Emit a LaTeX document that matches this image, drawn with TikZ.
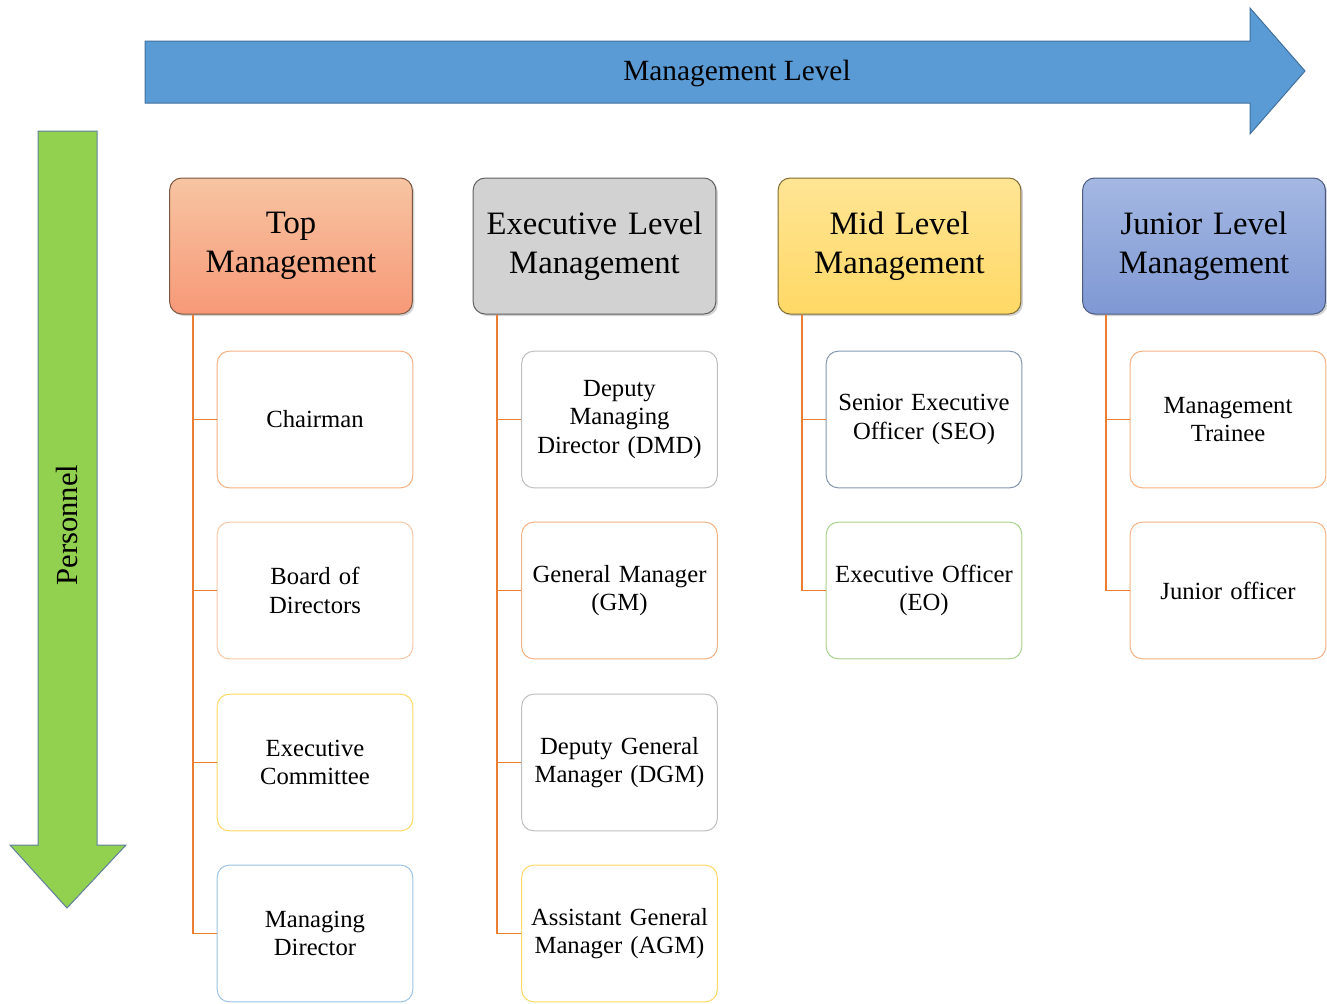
\documentclass[tikz,border=0pt]{standalone}
\usepackage{fontspec}
\setmainfont{Liberation Serif}
\usetikzlibrary{shadows}

\definecolor{lvlblue}{HTML}{5B9BD5}
\definecolor{lvlblueedge}{HTML}{41719C}
\definecolor{persgreen}{HTML}{92D050}
\definecolor{persedge}{HTML}{5F7F9F}
\definecolor{branchorange}{HTML}{ED7D31}
\definecolor{edgeorange}{HTML}{F4B183}
\definecolor{edgeyellow}{HTML}{FFD966}
\definecolor{edgeblue}{HTML}{9DC3E6}
\definecolor{edgegrey}{HTML}{BFBFBF}
\definecolor{edgeslate}{HTML}{8497B0}
\definecolor{edgegreen}{HTML}{A9D18E}
\definecolor{juniortop}{HTML}{A4B8E2}
\definecolor{juniorbottom}{HTML}{7F98D4}

\tikzset{every picture/.style={line width=0.75pt}}
\tikzset{
  header/.style={rounded corners=9pt, minimum width=182pt, minimum height=102pt,
    align=center, text width=175pt, font=\fontsize{24.5}{29}\selectfont,
    drop shadow={shadow xshift=1.5pt, shadow yshift=-1.5pt, opacity=0.35}},
  member/.style={rounded corners=9pt, fill=white, minimum width=145.5pt, minimum height=102.5pt,
    align=center, text width=140pt, font=\fontsize{18.5}{21.5}\selectfont},
  branch/.style={draw=branchorange, line width=1.4pt},
}

\begin{document}
\begin{tikzpicture}[x=0.75pt,y=0.75pt,yscale=-1,xscale=1]
\path[use as bounding box] (0,0) rectangle (1327,1003);

%Shape: Right Arrow [id:management]
\draw[draw=lvlblueedge, fill=lvlblue] (145,41) -- (1250,41) -- (1250,8) -- (1305,71) -- (1250,134) -- (1250,103) -- (145,103) -- cycle;
% Text Node
\node (levelname) at (737,73) [inner sep=0.75pt, font=\fontsize{22}{26}\selectfont] {Management Level};

%Shape: Down Arrow [id:personnel]
\draw[draw=persedge, fill=persgreen] (38,131) -- (97,131) -- (97,845) -- (126,845) -- (67,908) -- (10,845) -- (38,845) -- cycle;
% Text Node
\node (persname) at (67,525) [inner sep=0.75pt, rotate=90, font=\fontsize{23}{27}\selectfont] {Personnel};

%Header boxes
\node[header, draw=edgeorange!50!black, top color=edgeorange!75, bottom color=edgeorange!80!red!90] (top) at (291,246) {Top\\Management};
\node[header, draw=edgegrey!50!black, top color=edgegrey!70, bottom color=edgegrey!110!black] (exec) at (594.5,246) {Executive Level\\Management};
\node[header, draw=edgeyellow!50!black, top color=edgeyellow!70, bottom color=edgeyellow] (mid) at (899.5,246) {Mid Level\\Management};
\node[header, draw=juniorbottom!60!black, top color=juniortop, bottom color=juniorbottom] (junior) at (1204,246) {Junior Level\\Management};

%Top management members
\node[member, draw=edgeorange] (chair) at (315,419.5) {Chairman};
\node[member, draw=edgeorange!70] (board) at (315,590.5) {Board of\\Directors};
\node[member, draw=edgeyellow] (excom) at (315,762.5) {Executive\\Committee};
\node[member, draw=edgeblue] (md) at (315,933.5) {Managing\\Director};

%Executive level members
\node[member, draw=edgegrey] (dmd) at (619.5,419.5) {Deputy\\Managing\\Director (DMD)};
\node[member, draw=edgeorange] (gm) at (619.5,590.5) {General Manager\\(GM)};
\node[member, draw=edgegrey] (dgm) at (619.5,762.5) {Deputy General\\Manager (DGM)};
\node[member, draw=edgeyellow] (agm) at (619.5,933.5) {Assistant General\\Manager (AGM)};

%Mid level members
\node[member, draw=edgeslate] (seo) at (924,419.5) {Senior Executive\\Officer (SEO)};
\node[member, draw=edgegreen] (eo) at (924,590.5) {Executive Officer\\(EO)};

%Junior level members
\node[member, draw=edgeorange] (trainee) at (1228,419.5) {Management\\Trainee};
\node[member, draw=edgeorange] (jo) at (1228,590.5) {Junior officer};

%Straight Lines
\draw[branch] ([xshift=18pt]top.south west) |- (chair.west);
\draw[branch] ([xshift=18pt]top.south west) |- (board.west);
\draw[branch] ([xshift=18pt]top.south west) |- (excom.west);
\draw[branch] ([xshift=18pt]top.south west) |- (md.west);
\draw[branch] ([xshift=18pt]exec.south west) |- (dmd.west);
\draw[branch] ([xshift=18pt]exec.south west) |- (gm.west);
\draw[branch] ([xshift=18pt]exec.south west) |- (dgm.west);
\draw[branch] ([xshift=18pt]exec.south west) |- (agm.west);
\draw[branch] ([xshift=18pt]mid.south west) |- (seo.west);
\draw[branch] ([xshift=18pt]mid.south west) |- (eo.west);
\draw[branch] ([xshift=18pt]junior.south west) |- (trainee.west);
\draw[branch] ([xshift=18pt]junior.south west) |- (jo.west);

\end{tikzpicture}
\end{document}
